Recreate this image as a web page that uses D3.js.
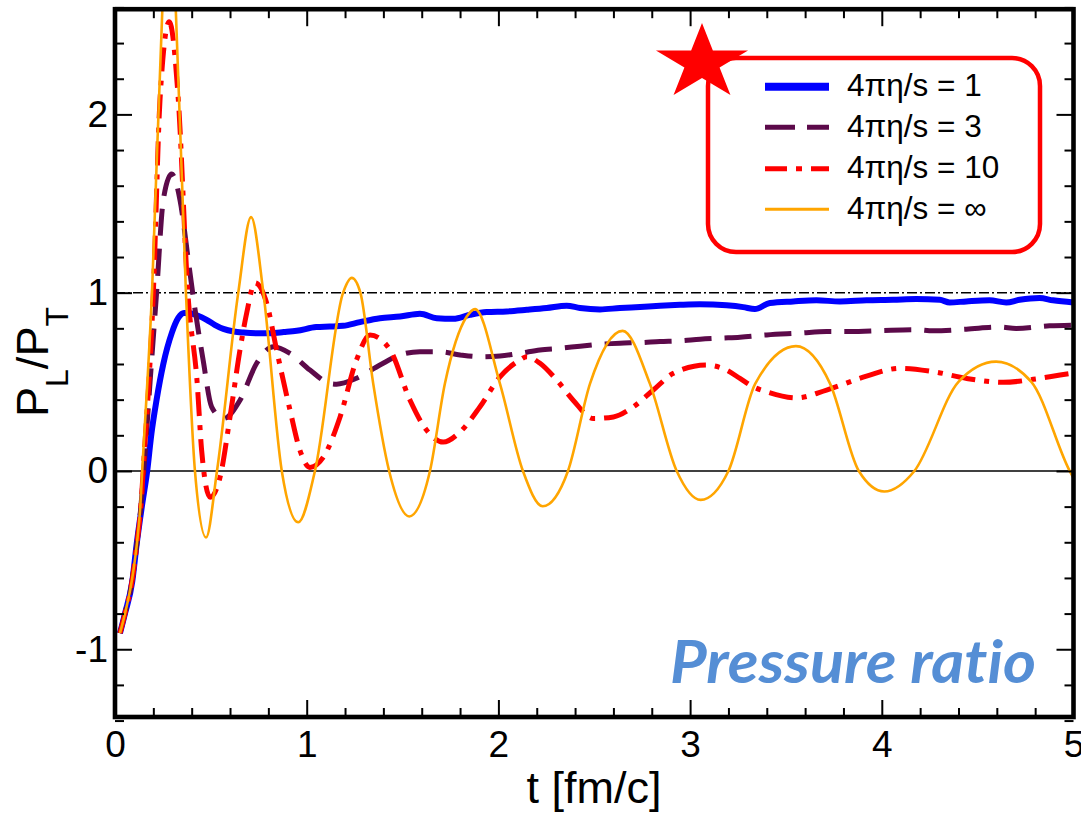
<!DOCTYPE html>
<html>
<head>
<meta charset="utf-8">
<script src="https://cdn.jsdelivr.net/npm/d3@7"></script>
<style>
  body { margin: 0; background: #fff; }
  svg { display: block; }
</style>
</head>
<body>
<svg id="chart" width="1081" height="814"></svg>
<script>
// Axis ticks and labels
const xTicks = [0, 1, 2, 3, 4, 5];
const yTicks = [-1, 0, 1, 2];
const xDomain = [0, 5];
const yDomain = [-1.38, 2.59];
const seriesNames = ["4πη/s = 1", "4πη/s = 3", "4πη/s = 10", "4πη/s = ∞"];

// P_L/P_T versus t [fm/c], one array per viscosity
const eta1 = [[0.026,-0.91],[0.052,-0.8],[0.09,-0.62],[0.113,-0.41],[0.14,-0.2],[0.168,0],[0.19,0.21],[0.217,0.4],[0.252,0.6],[0.296,0.773],[0.33,0.858],[0.36,0.886],[0.39,0.885],[0.43,0.872],[0.478,0.848],[0.52,0.82],[0.565,0.797],[0.62,0.782],[0.67,0.776],[0.74,0.772],[0.81,0.773],[0.88,0.779],[0.948,0.786],[1.05,0.807],[1.12,0.81],[1.19,0.814],[1.278,0.835],[1.382,0.857],[1.487,0.866],[1.591,0.882],[1.678,0.857],[1.765,0.854],[1.852,0.876],[1.939,0.891],[2.043,0.895],[2.148,0.904],[2.252,0.914],[2.356,0.927],[2.426,0.914],[2.53,0.906],[2.634,0.914],[2.739,0.92],[2.843,0.927],[2.947,0.932],[3.05,0.935],[3.19,0.929],[3.277,0.919],[3.338,0.908],[3.416,0.942],[3.538,0.951],[3.659,0.957],[3.781,0.951],[3.92,0.957],[4.059,0.96],[4.18,0.964],[4.302,0.96],[4.354,0.945],[4.441,0.951],[4.562,0.957],[4.649,0.945],[4.719,0.96],[4.823,0.97],[4.893,0.957],[5.0,0.945]];

const eta3 = [[0.026,-0.91],[0.052,-0.8],[0.09,-0.61],[0.115,-0.4],[0.135,-0.2],[0.15,0],[0.183,0.5],[0.217,1.0],[0.252,1.52],[0.295,1.665],[0.339,1.52],[0.382,1.186],[0.405,1.0],[0.46,0.62],[0.504,0.36],[0.565,0.294],[0.652,0.397],[0.739,0.604],[0.826,0.697],[0.913,0.66],[1.017,0.566],[1.12,0.491],[1.156,0.487],[1.26,0.52],[1.382,0.594],[1.487,0.651],[1.591,0.669],[1.695,0.669],[1.8,0.651],[1.904,0.641],[2.008,0.645],[2.113,0.66],[2.217,0.679],[2.322,0.688],[2.426,0.7],[2.53,0.711],[2.634,0.717],[2.739,0.72],[2.843,0.726],[2.947,0.73],[3.052,0.739],[3.156,0.745],[3.26,0.75],[3.4,0.763],[3.573,0.773],[3.712,0.782],[3.834,0.782],[4.008,0.788],[4.18,0.792],[4.267,0.786],[4.441,0.795],[4.614,0.807],[4.701,0.799],[4.875,0.814],[5.0,0.818]];

const eta10 = [[0.026,-0.91],[0.052,-0.8],[0.09,-0.61],[0.115,-0.4],[0.135,-0.2],[0.147,0],[0.2,1.0],[0.235,2.087],[0.283,2.52],[0.33,2.087],[0.38,1.0],[0.429,0.49],[0.452,0.115],[0.496,-0.148],[0.548,-0.035],[0.6,0.303],[0.652,0.679],[0.687,0.886],[0.73,1.055],[0.791,0.942],[0.843,0.679],[0.913,0.341],[0.965,0.115],[1.017,0.02],[1.087,0.078],[1.174,0.303],[1.26,0.623],[1.33,0.763],[1.435,0.679],[1.539,0.397],[1.626,0.228],[1.712,0.162],[1.8,0.219],[1.904,0.36],[2.008,0.528],[2.113,0.623],[2.148,0.641],[2.217,0.604],[2.304,0.51],[2.39,0.397],[2.495,0.294],[2.6,0.303],[2.704,0.36],[2.808,0.454],[2.913,0.548],[3.087,0.594],[3.19,0.566],[3.26,0.519],[3.33,0.472],[3.4,0.444],[3.556,0.41],[3.712,0.454],[3.92,0.532],[4.095,0.576],[4.269,0.557],[4.443,0.519],[4.634,0.497],[4.79,0.514],[4.93,0.538],[5.0,0.55]];

const etaInf = [[0.026,-0.91],[0.052,-0.8],[0.09,-0.6],[0.115,-0.4],[0.132,-0.2],[0.142,0],[0.193,1.0],[0.247,2.59],[0.282,3.2],[0.317,2.59],[0.37,1.0],[0.417,0],[0.475,-0.373],[0.532,0],[0.643,1.0],[0.71,1.424],[0.774,1.0],[0.87,0],[0.956,-0.288],[1.043,0],[1.19,1.0],[1.235,1.083],[1.28,1.0],[1.347,0.49],[1.43,0],[1.535,-0.255],[1.643,0],[1.721,0.49],[1.835,0.866],[1.878,0.908],[2.008,0.49],[2.128,0],[2.231,-0.198],[2.363,0],[2.478,0.49],[2.648,0.786],[2.79,0.49],[2.93,0],[3.055,-0.162],[3.2,0],[3.34,0.49],[3.552,0.70],[3.73,0.49],[3.88,0],[4.013,-0.115],[4.17,0],[4.4,0.5],[4.596,0.613],[4.78,0.5],[4.98,0],[5.0,-0.04]];

// Line styles per series
const styles = [
  { data: eta1,   color: "#0000ff", width: 6,   dash: null },
  { data: eta3,   color: "#5c0a4a", width: 5,   dash: "27,13" },
  { data: eta10,  color: "#ff0000", width: 5,   dash: "24,9,5,9" },
  { data: etaInf, color: "#ffa500", width: 2.6, dash: null }
];

const svg = d3.select("#chart");
const plotLeft = 115, plotRight = 1073.5, plotTop = 9.2, plotBottom = 717;
const x = d3.scaleLinear().domain(xDomain).range([plotLeft, plotRight]);
const y = d3.scaleLinear().domain(yDomain).range([plotBottom, plotTop]);

svg.append("defs").append("clipPath").attr("id", "plotClip")
  .append("rect").attr("x", plotLeft).attr("y", plotTop)
  .attr("width", plotRight - plotLeft).attr("height", plotBottom - plotTop);

const plot = svg.append("g").attr("clip-path", "url(#plotClip)");

// Reference lines at 0 and 1
plot.append("line")
  .attr("x1", x(0)).attr("x2", x(5)).attr("y1", y(0)).attr("y2", y(0))
  .attr("stroke", "#000").attr("stroke-width", 1.6);
plot.append("line")
  .attr("x1", x(0)).attr("x2", x(5)).attr("y1", y(1)).attr("y2", y(1))
  .attr("stroke", "#000").attr("stroke-width", 1.6)
  .attr("stroke-dasharray", "10,3,2,3");

const line = d3.line()
  .x(d => x(d[0])).y(d => y(d[1]))
  .curve(d3.curveMonotoneX);

styles.forEach(s => {
  plot.append("path")
    .attr("d", line(s.data))
    .attr("fill", "none")
    .attr("stroke", s.color)
    .attr("stroke-width", s.width)
    .attr("stroke-dasharray", s.dash)
    .attr("stroke-linejoin", "round");
});

// Axes: major and minor ticks on all four sides, pointing inward
const xMinor = d3.range(0, 26).map(i => i * 0.2).filter(v => Math.abs(v - Math.round(v)) > 1e-6);
const yMinor = d3.range(-7, 14).map(i => i * 0.2).filter(v => Math.abs(v - Math.round(v)) > 1e-6);
const fontAxis = "'Liberation Sans', Arial, sans-serif";
const plainNumber = d => String(d);

function styleAxis(g) {
  g.select(".domain").remove();
  g.selectAll(".tick line").attr("stroke", "#000").attr("stroke-width", 2);
  g.selectAll(".tick text").attr("font-family", fontAxis).attr("font-size", 37).attr("fill", "#000");
}

svg.append("g").attr("transform", `translate(0,${plotBottom})`)
  .call(d3.axisBottom(x).tickValues(xMinor).tickSize(-9).tickFormat("")).call(styleAxis);
svg.append("g").attr("transform", `translate(0,${plotBottom})`)
  .call(d3.axisBottom(x).tickValues(xTicks).tickSize(-17).tickPadding(14).tickFormat(plainNumber)).call(styleAxis);
svg.append("g").attr("transform", `translate(0,${plotTop})`)
  .call(d3.axisTop(x).tickValues(xMinor).tickSize(-9).tickFormat("")).call(styleAxis);
svg.append("g").attr("transform", `translate(0,${plotTop})`)
  .call(d3.axisTop(x).tickValues(xTicks).tickSize(-17).tickFormat("")).call(styleAxis);

svg.append("g").attr("transform", `translate(${plotLeft},0)`)
  .call(d3.axisLeft(y).tickValues(yMinor).tickSize(-9).tickFormat("")).call(styleAxis);
svg.append("g").attr("transform", `translate(${plotLeft},0)`)
  .call(d3.axisLeft(y).tickValues(yTicks).tickSize(-17).tickPadding(7).tickFormat(plainNumber)).call(styleAxis);
svg.append("g").attr("transform", `translate(${plotRight},0)`)
  .call(d3.axisRight(y).tickValues(yMinor).tickSize(-9).tickFormat("")).call(styleAxis);
svg.append("g").attr("transform", `translate(${plotRight},0)`)
  .call(d3.axisRight(y).tickValues(yTicks).tickSize(-17).tickFormat("")).call(styleAxis);

// Frame
svg.append("rect")
  .attr("x", plotLeft).attr("y", plotTop).attr("width", plotRight - plotLeft).attr("height", plotBottom - plotTop)
  .attr("fill", "none").attr("stroke", "#000").attr("stroke-width", 4.6);

// Axis titles
svg.append("text")
  .attr("x", 594).attr("y", 803)
  .attr("text-anchor", "middle")
  .attr("font-family", fontAxis).attr("font-size", 45).attr("fill", "#000")
  .text("t [fm/c]");

const yTitle = svg.append("text")
  .attr("transform", "translate(48,362) rotate(-90)")
  .attr("text-anchor", "middle")
  .attr("font-family", fontAxis).attr("font-size", 45).attr("fill", "#000");
yTitle.append("tspan").text("P");
yTitle.append("tspan").attr("font-size", 32).attr("dy", 20).text("L");
yTitle.append("tspan").attr("dy", -20).text("/P");
yTitle.append("tspan").attr("font-size", 32).attr("dy", 20).text("T");

// Legend box
const legend = svg.append("g");
legend.append("rect")
  .attr("x", 708).attr("y", 58).attr("width", 332).attr("height", 194)
  .attr("rx", 28).attr("ry", 28)
  .attr("fill", "#fff").attr("stroke", "#ff0000").attr("stroke-width", 4.5);

const rowY = [86.7, 127.3, 168.7, 209.3];
const legendDash = [null, "30,12", "22,9,6,9", null];
const legendWidth = [8, 5, 5, 3];
styles.forEach((s, i) => {
  legend.append("line")
    .attr("x1", 765).attr("x2", 829).attr("y1", rowY[i]).attr("y2", rowY[i])
    .attr("stroke", s.color).attr("stroke-width", legendWidth[i])
    .attr("stroke-dasharray", legendDash[i]);
  legend.append("text")
    .attr("x", 847).attr("y", rowY[i] + 9.5)
    .attr("font-family", fontAxis).attr("font-size", 31.5).attr("fill", "#000")
    .text(seriesNames[i]);
});

// Red star marker at the legend corner
const star = [];
const cx = 702, cy = 62.8, rx = 48.4, ry = 39.8, inner = 0.382;
for (let k = 0; k < 10; k++) {
  const a = -Math.PI / 2 + k * Math.PI / 5;
  const r = k % 2 === 0 ? 1 : inner;
  star.push([cx + rx * r * Math.cos(a), cy + ry * r * Math.sin(a)]);
}
svg.append("path")
  .attr("d", d3.line()(star) + "Z")
  .attr("fill", "#ff0000");

// Panel caption
svg.append("text")
  .attr("x", 670).attr("y", 683)
  .attr("font-family", "Lato, 'Open Sans', sans-serif")
  .attr("font-weight", "bold").attr("font-style", "italic")
  .attr("font-size", 60).attr("fill", "#558ed5")
  .style("font-variant-ligatures", "none")
  .style("font-feature-settings", "'liga' 0, 'dlig' 0")
  .attr("textLength", 366).attr("lengthAdjust", "spacingAndGlyphs")
  .text("Pressure ratio");
</script>
</body>
</html>
